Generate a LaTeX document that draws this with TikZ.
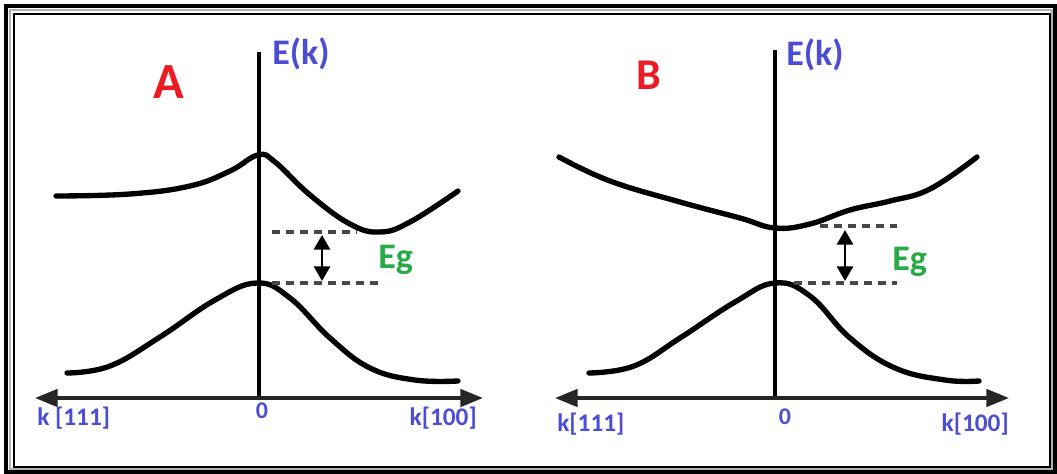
\documentclass[tikz,border=0pt]{standalone}
\usepackage{fontspec}
\setmainfont{Carlito}
\usetikzlibrary{arrows.meta}
\definecolor{axblue}{RGB}{76,76,212}
\definecolor{egreen}{RGB}{40,170,70}
\definecolor{lblred}{RGB}{235,28,36}
\definecolor{dashgray}{RGB}{70,70,70}
\tikzset{
  band/.style={line width=4pt, line cap=round, line join=round},
  vaxis/.style={line width=2.8pt},
  haxis/.style={line width=2.8pt, draw=black!85, {Triangle[length=17pt,width=13pt]}-{Triangle[length=17pt,width=13pt]}},
  gapline/.style={line width=2.5pt, draw=dashgray, dash pattern=on 6pt off 4.5pt},
  gaparrow/.style={line width=2.2pt, {Triangle[length=11pt,width=12pt]}-{Triangle[length=11pt,width=12pt]}},
  elabel/.style={text=axblue, font=\bfseries\fontsize{27}{30}\selectfont, inner sep=0pt},
  klabel/.style={text=axblue, font=\bfseries\fontsize{19}{22}\selectfont, inner sep=0pt},
  zlabel/.style={text=axblue, font=\bfseries\fontsize{18}{20}\selectfont, inner sep=0pt},
  eglabel/.style={text=egreen, font=\bfseries\fontsize{27}{30}\selectfont, inner sep=0pt},
  panellabel/.style={text=lblred, font=\bfseries, inner sep=0pt}
}
\begin{document}
\begin{tikzpicture}[x=0.75pt,y=-0.75pt]
\useasboundingbox (0,0) rectangle (1057,474);
% frame
\draw[line width=3pt] (6,6) rectangle (1055,472);
\draw[line width=1.5pt, draw=black!30] (10,10) rectangle (1052,469);
\draw[line width=1.5pt] (14,14) rectangle (1050,467);

% ---------------- Panel A ----------------
\coordinate (Atop) at (259,52);
\coordinate (Aorg) at (259,398);
\coordinate (Aleft) at (35,398);
\coordinate (Aright) at (483,398);
\draw[vaxis] (Atop) -- (Aorg);
\draw[haxis] (Aleft) -- (Aright);
\draw[band] plot[smooth, tension=0.7] coordinates {(56,196) (130,194) (190,186) (230,171) (258,155) (275,162) (310,195) (350,224) (380,232) (410,222) (458,191)};
\draw[band] plot[smooth, tension=0.7] coordinates {(67,373) (110,366) (160,337) (215,300) (257,283) (290,298) (330,338) (370,368) (415,380) (458,381)};
\coordinate (Acb1) at (272,232);
\coordinate (Acb2) at (357,232);
\coordinate (Avb1) at (272,283);
\coordinate (Avb2) at (380,283);
\draw[gapline] (Acb1) -- (Acb2);
\draw[gapline] (Avb1) -- (Avb2);
\coordinate (Aeg1) at (322,235);
\coordinate (Aeg2) at (322,281);
\draw[gaparrow] (Aeg1) -- (Aeg2);
\node[eglabel, anchor=base west] (AEg) at (378,268) {Eg};
\node[elabel] (AE) at (301,54) {E(k)};
\node[panellabel, font=\bfseries\fontsize{38}{40}\selectfont] (Alab) at (169,82) {A};
\node[klabel, anchor=base west] (Ak111) at (37,425) {k [111]};
\node[klabel, anchor=base east] (Ak100) at (477,425) {k[100]};
\node[zlabel] (Azero) at (262,411) {0};

% ---------------- Panel B ----------------
\coordinate (Btop) at (775,50);
\coordinate (Borg) at (775,398);
\coordinate (Bleft) at (555,398);
\coordinate (Bright) at (1009,398);
\draw[vaxis] (Btop) -- (Borg);
\draw[haxis] (Bleft) -- (Bright);
\draw[band] plot[smooth, tension=0.7] coordinates {(559,157) (610,181) (680,202) (740,218) (775,228) (810,224) (850,210) (890,201) (930,189) (977,157)};
\draw[band] plot[smooth, tension=0.7] coordinates {(589,373) (634,366) (680,338) (735,302) (775,283) (810,296) (850,338) (895,368) (945,380) (979,381)};
\coordinate (Bcb1) at (820,226);
\coordinate (Bcb2) at (897,226);
\coordinate (Bvb1) at (794,283);
\coordinate (Bvb2) at (897,283);
\draw[gapline] (Bcb1) -- (Bcb2);
\draw[gapline] (Bvb1) -- (Bvb2);
\coordinate (Beg1) at (845,230);
\coordinate (Beg2) at (845,281);
\draw[gaparrow] (Beg1) -- (Beg2);
\node[eglabel, anchor=base west] (BEg) at (892,270) {Eg};
\node[elabel] (BE) at (815,55) {E(k)};
\node[panellabel, font=\bfseries\fontsize{33}{35}\selectfont] (Blab) at (649,75) {B};
\node[klabel, anchor=base west] (Bk111) at (557,431) {k[111]};
\node[klabel, anchor=base east] (Bk100) at (1009,431) {k[100]};
\node[zlabel] (Bzero) at (785,417) {0};
\end{tikzpicture}
\end{document}
